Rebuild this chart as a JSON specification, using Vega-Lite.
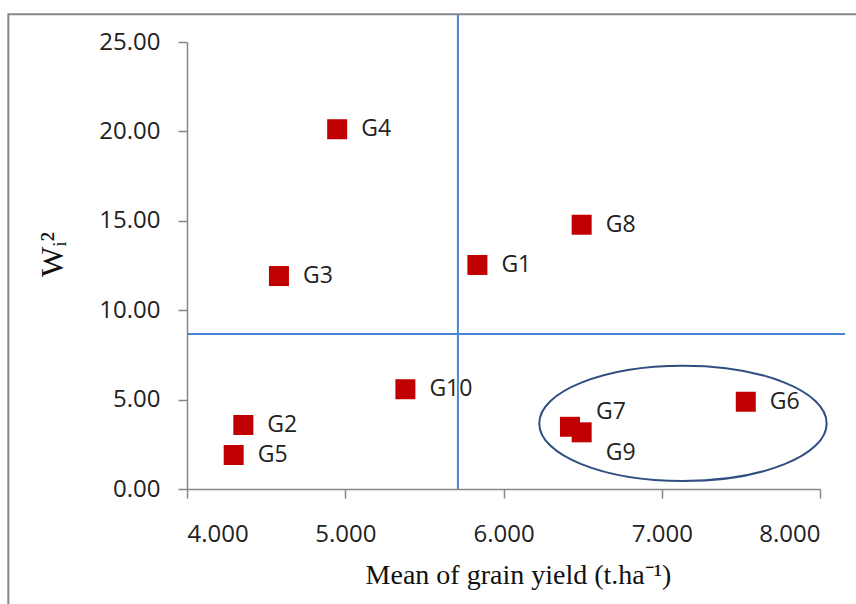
{
  "$schema": "https://vega.github.io/schema/vega-lite/v6.json",
  "width": 633,
  "height": 447,
  "autosize": {"type": "none"},
  "padding": {"left": 187, "top": 42, "right": 36, "bottom": 115},
  "background": "white",
  "config": {
    "view": {"stroke": null},
    "axis": {
      "grid": false,
      "domainColor": "#868686",
      "domainWidth": 1.5,
      "tickColor": "#868686",
      "tickWidth": 1.5,
      "tickSize": 9,
      "labelFont": "Open Sans",
      "labelFontSize": 24,
      "labelColor": "#222222",
      "titleFont": "Liberation Serif",
      "titleFontSize": 28,
      "titleFontWeight": "normal",
      "titleColor": "#111111"
    }
  },
  "datasets": {
    "genotypes": [
      {"genotype": "G1", "mean_yield": 5.835, "wi2": 12.53},
      {"genotype": "G2", "mean_yield": 4.356, "wi2": 3.58},
      {"genotype": "G3", "mean_yield": 4.581, "wi2": 11.91},
      {"genotype": "G4", "mean_yield": 4.949, "wi2": 20.12},
      {"genotype": "G5", "mean_yield": 4.295, "wi2": 1.90},
      {"genotype": "G6", "mean_yield": 7.531, "wi2": 4.88},
      {"genotype": "G7", "mean_yield": 6.420, "wi2": 3.48},
      {"genotype": "G8", "mean_yield": 6.494, "wi2": 14.78},
      {"genotype": "G9", "mean_yield": 6.494, "wi2": 3.17},
      {"genotype": "G10", "mean_yield": 5.380, "wi2": 5.58}
    ],
    "means": [{"mean_yield": 5.712, "wi2": 8.67}]
  },
  "layer": [
    {
      "data": {"name": "means"},
      "mark": {"type": "rect", "fill": null, "stroke": "#878787", "strokeWidth": 2, "clip": false},
      "encoding": {
        "x": {"datum": 2.871, "type": "quantitative", "scale": {"domain": [4, 8], "nice": false, "zero": false}},
        "x2": {"datum": 9.5},
        "y": {"datum": 26.55, "type": "quantitative", "scale": {"domain": [0, 25], "nice": false}},
        "y2": {"datum": -10}
      }
    },
    {
      "data": {"name": "means"},
      "mark": {"type": "rule", "color": "#4A86D6", "strokeWidth": 2, "clip": false},
      "encoding": {
        "x": {"field": "mean_yield", "type": "quantitative"},
        "y": {"datum": 0, "type": "quantitative"},
        "y2": {"datum": 26.55}
      }
    },
    {
      "data": {"name": "means"},
      "mark": {"type": "rule", "color": "#4A86D6", "strokeWidth": 2, "clip": false},
      "encoding": {
        "y": {"field": "wi2", "type": "quantitative"},
        "x": {"datum": 4, "type": "quantitative"},
        "x2": {"datum": 8.158}
      }
    },
    {
      "data": {"name": "genotypes"},
      "mark": {"type": "point", "shape": "square", "filled": true, "size": 400, "color": "#C00000", "opacity": 1},
      "encoding": {
        "x": {
          "field": "mean_yield",
          "type": "quantitative",
          "scale": {"domain": [4, 8], "nice": false, "zero": false},
          "axis": {
            "values": [4, 5, 6, 7, 8],
            "format": ".3f",
            "labelPadding": 24,
            "title": "Mean of grain yield (t.ha⁻¹)",
            "titlePadding": 15,
            "titleX": 331
          }
        },
        "y": {
          "field": "wi2",
          "type": "quantitative",
          "scale": {"domain": [0, 25], "nice": false},
          "axis": {
            "values": [0, 5, 10, 15, 20, 25],
            "format": ".2f",
            "labelPadding": 18,
            "title": "Wᵢ²",
            "titleFontSize": 32,
            "titleAngle": -90,
            "titleBaseline": "alphabetic",
            "titleX": -125,
            "titleY": 212
          }
        }
      }
    },
    {
      "data": {"name": "genotypes"},
      "transform": [{"filter": "datum.genotype !== 'G7' && datum.genotype !== 'G9'"}],
      "mark": {"type": "text", "align": "left", "baseline": "middle", "dx": 24, "font": "Open Sans", "fontSize": 23, "color": "#222222"},
      "encoding": {
        "x": {"field": "mean_yield", "type": "quantitative"},
        "y": {"field": "wi2", "type": "quantitative"},
        "text": {"field": "genotype"}
      }
    },
    {
      "data": {"name": "genotypes"},
      "transform": [{"filter": "datum.genotype === 'G7'"}],
      "mark": {"type": "text", "align": "left", "baseline": "middle", "dx": 26, "dy": -15, "font": "Open Sans", "fontSize": 23, "color": "#222222"},
      "encoding": {
        "x": {"field": "mean_yield", "type": "quantitative"},
        "y": {"field": "wi2", "type": "quantitative"},
        "text": {"field": "genotype"}
      }
    },
    {
      "data": {"name": "genotypes"},
      "transform": [{"filter": "datum.genotype === 'G9'"}],
      "mark": {"type": "text", "align": "left", "baseline": "middle", "dx": 24, "dy": 21, "font": "Open Sans", "fontSize": 23, "color": "#222222"},
      "encoding": {
        "x": {"field": "mean_yield", "type": "quantitative"},
        "y": {"field": "wi2", "type": "quantitative"},
        "text": {"field": "genotype"}
      }
    },
    {
      "data": {"name": "means"},
      "mark": {"type": "point", "shape": "M-1,0A1,0.4015,0,1,0,1,0A1,0.4015,0,1,0,-1,0Z", "size": 82600, "filled": false, "stroke": "#2F4F80", "strokeWidth": 2, "opacity": 1, "clip": false},
      "encoding": {
        "x": {"datum": 7.134, "type": "quantitative"},
        "y": {"datum": 3.67, "type": "quantitative"}
      }
    }
  ]
}
